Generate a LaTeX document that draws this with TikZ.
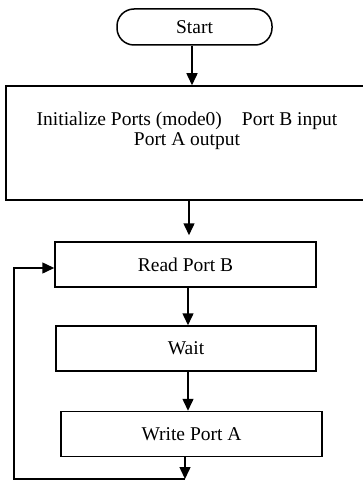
\documentclass[tikz,border=0pt]{standalone}
\usepackage{fontspec}
\setmainfont{Liberation Serif}
\usetikzlibrary{arrows.meta}
\begin{document}
\begin{tikzpicture}[x=1pt,y=-1pt,
  txt/.style={font=\fontsize{19.5}{19.5}\selectfont},
  box/.style={draw, line width=1.5pt, minimum height=45pt, inner sep=0pt, txt},
  arr/.style={line width=1.5pt, -{Triangle[length=12pt,width=11pt]}}]
\useasboundingbox (0,0) rectangle (363,481);
\clip (0,0) rectangle (363,481);
\node[box, rounded corners=17pt, minimum width=155pt, minimum height=36pt] (start) at (194.5,27) {Start};
\node[box, minimum width=359pt, minimum height=114pt] (init) at (185.5,143) {};
\node[txt, align=center, inner sep=0pt] (initlbl) at (187,131) {Initialize Ports (mode0)\hspace{20pt}Port B input\\Port A output};
\node[box, minimum width=261pt] (read) at (185.5,264.5) {Read Port B};
\node[box, minimum width=260pt] (wait) at (186,348.5) {Wait};
\node[box, minimum width=261pt] (write) at (191.5,434) {Write Port A};
\coordinate (bot) at (185,479);
\coordinate (loopc) at (14,479);
\draw[arr] ([xshift=-2.5pt]start.south) -- ([xshift=-2.5pt]init.north -| start.south);
\draw[arr] ([xshift=3.5pt]init.south) -- ([xshift=3.5pt,yshift=6pt]read.north);
\draw[arr] ([xshift=2.5pt]read.south) -- ([xshift=2.5pt]read.south |- wait.north);
\draw[arr] ([xshift=2pt]wait.south) -- ([xshift=2pt]wait.south |- write.north);
\draw[arr] (write.south -| bot) -- (bot);
\draw[arr] (bot) -- (loopc) |- ([yshift=-3.5pt]read.west);
\end{tikzpicture}
\end{document}
